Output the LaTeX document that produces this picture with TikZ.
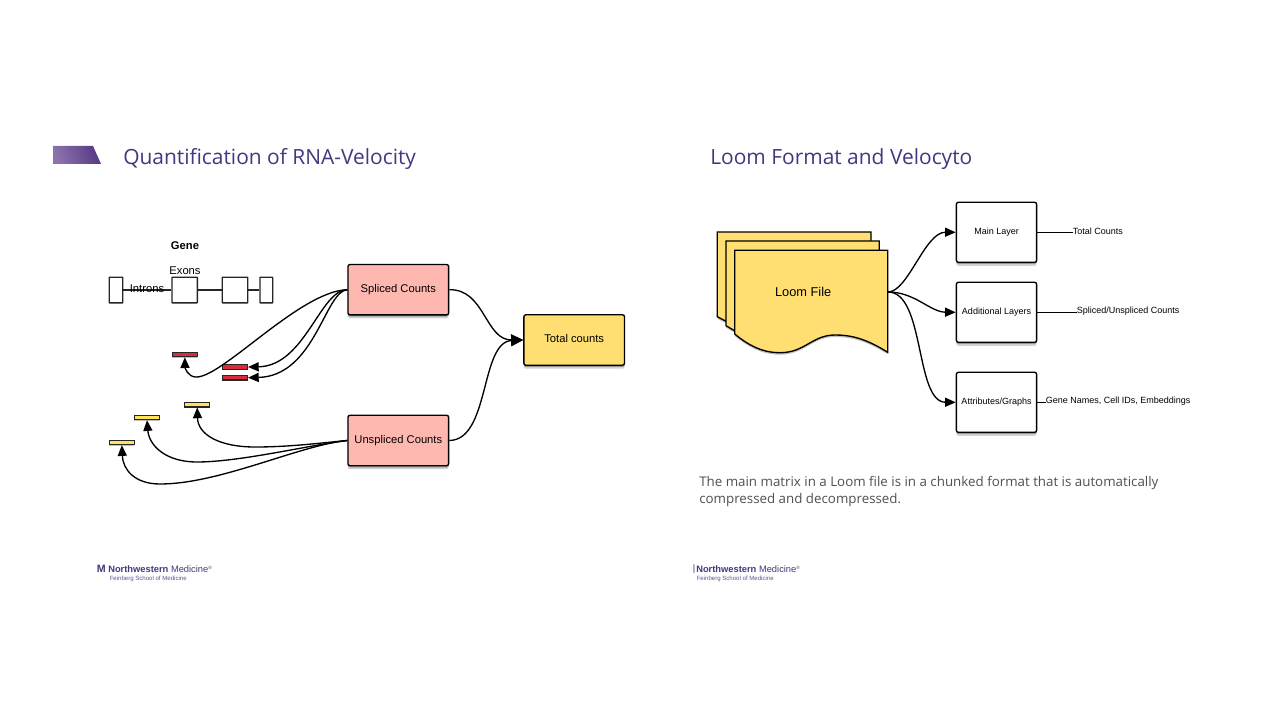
\documentclass[tikz,border=0pt]{standalone}
\usepackage{fontspec}
\setmainfont{Liberation Sans}
\newfontfamily\titlefont{Open Sans}
\usetikzlibrary{arrows.meta,shadows,fadings}
\definecolor{nwpurple}{HTML}{47367F}
\definecolor{bannerlight}{HTML}{8B73AE}
\definecolor{bannerdark}{HTML}{573A84}
\definecolor{bodygray}{HTML}{505050}
\definecolor{pinkfill}{HTML}{FFB8B0}
\definecolor{goldfill}{HTML}{FFDF71}
\definecolor{redbar}{HTML}{D92B3A}
\definecolor{yellowbar}{HTML}{FFE35A}
\tikzset{
  softshadow/.style={drop shadow={shadow xshift=0pt,shadow yshift=-1.2pt,opacity=.28,fill=black},
                     drop shadow={shadow xshift=0pt,shadow yshift=-2.6pt,opacity=.18,fill=black}},
  flow/.style={draw=black,line width=1pt,rounded corners=1.5pt,softshadow,align=center,inner sep=0pt,font=\fontsize{8.4}{10}\selectfont},
  pinkbox/.style={flow,fill=pinkfill,minimum width=75.5pt,minimum height=37.8pt},
  goldbox/.style={flow,fill=goldfill,minimum width=75.5pt,minimum height=37.8pt},
  whitebox/.style={flow,fill=white,minimum width=60.2pt,minimum height=45pt,font=\fontsize{6.75}{9}\selectfont},
  genebox/.style={draw=black!85,line width=.95pt,fill=white,rounded corners=.3pt,inner sep=0pt,minimum height=19.3pt},
  barbase/.style={draw=black!85,line width=.85pt,inner sep=0pt,minimum width=19pt,minimum height=3.4pt,drop shadow={shadow xshift=0pt,shadow yshift=-.8pt,opacity=.25,fill=black}},
  redb/.style={barbase,fill=redbar},
  yelb/.style={barbase,fill=yellowbar},
  conn/.style={draw=black,line width=1pt},
  arr/.style={conn,-{Triangle[length=8pt,width=6.8pt]}},
  bigarr/.style={conn,-{Triangle[length=9pt,width=8.5pt]}},
  plain/.style={inner sep=0pt,font=\fontsize{8.4}{10}\selectfont},
  sidelabel/.style={inner sep=0pt,font=\fontsize{6.75}{9}\selectfont},
  slidetitle/.style={inner sep=0pt,anchor=base west,text=nwpurple,font=\titlefont\fontsize{15.7}{20}\selectfont},
  logomain/.style={inner sep=0pt,anchor=west,text=nwpurple,font=\fontsize{7}{8}\selectfont},
  logosub/.style={inner sep=0pt,anchor=west,text=nwpurple!85,font=\fontsize{4.55}{5}\selectfont},
  docsheet/.style={draw=black,line width=1pt,fill=goldfill,line join=miter,drop shadow={shadow xshift=0pt,shadow yshift=-1.5pt,opacity=.25,fill=black}},
}
\begin{document}
\begin{tikzpicture}[x=0.75pt,y=-0.75pt]
\useasboundingbox (0,0) rectangle (1280,720);
\fill[white] (0,0) rectangle (1280,720);

% left slide header
\shade[left color=bannerlight,right color=bannerdark,shading angle=110]
  (53,146) -- (93,146) -- (101,164) -- (53,164) -- cycle;
\node[slidetitle] (titleL) at (123,164.5) {Quantification of RNA-Velocity};

% gene
\node[plain,font=\bfseries\fontsize{8.4}{10}\selectfont] (gene) at (185,245.5) {Gene};
\node[plain] (exons) at (185,271) {Exons};
\node[genebox,minimum width=10pt] (g1) at (116,290) {};
\node[genebox,minimum width=19pt] (g2) at (184.7,290) {};
\node[genebox,minimum width=19pt] (g3) at (235,290) {};
\node[genebox,minimum width=9.5pt] (g4) at (266.3,290) {};
\draw[line width=.85pt,draw=black!85] (g1) -- (g2);
\draw[line width=.85pt,draw=black!85] (g2) -- (g3);
\draw[line width=.85pt,draw=black!85] (g3) -- (g4);
\node[plain] (introns) at (147,289) {Introns};

% bars
\node[redb] (r1) at (184.8,354.5) {};
\node[redb] (r2) at (234.8,367) {};
\node[redb] (r3) at (234.8,377.7) {};
\node[yelb] (y1) at (197.2,404.7) {};
\node[yelb] (y2) at (147,417.4) {};
\node[yelb] (y3) at (121.8,442.4) {};

% main boxes
\node[pinkbox] (spliced) at (398.3,289.7) {Spliced Counts};
\node[pinkbox] (unspliced) at (398.3,440.5) {Unspliced Counts};
\node[goldbox] (total) at (574.2,340) {\raisebox{2pt}{Total counts}};

% spliced curves
\draw[arr] (spliced.west) .. controls (300,291) and (222,378) .. (196,377) .. controls (188,377) and (185,368) .. (r1.south);
\draw[arr] (spliced.west) .. controls (320,290) and (305,366) .. (r2.east);
\draw[arr] (spliced.west) .. controls (325,291) and (315,376) .. (r3.east);
% unspliced curves
\draw[arr] (unspliced.west) .. controls (320,443) and (290,447) .. (255,447) .. controls (220,447) and (198,435) .. (y1.south);
\draw[arr] (unspliced.west) .. controls (310,445) and (240,462) .. (197,462) .. controls (165,462) and (149,445) .. (y2.south);
\draw[arr] (unspliced.west) .. controls (300,445) and (220,484) .. (160,484) .. controls (135,484) and (123,470) .. (y3.south);
% totals
\draw[bigarr] (spliced.east) .. controls (485,289) and (485,340) .. (total.west);
\draw[bigarr] (unspliced.east) .. controls (490,440) and (480,342) .. (total.west);

% right slide
\node[slidetitle] (titleR) at (710,164.5) {Loom Format and Velocyto};

\draw[docsheet] (717.3,232) -- (871,232) -- (871,326) -- (735,326) -- (717.3,316.7) -- cycle;
\draw[docsheet] (726,241) -- (879.3,241) -- (879.3,331) -- (735,331) -- (726,325.7) -- cycle;
\draw[docsheet] (734.7,250.3) -- (887.7,250.3) -- (887.7,352.3)
  .. controls (865,338) and (850,335) .. (835,335)
  .. controls (812,335) and (805,352.7) .. (780,352.7)
  .. controls (762,352.7) and (748,345) .. (734.7,334) -- cycle;
\node[inner sep=0pt,minimum width=114.8pt,minimum height=63pt,font=\fontsize{9.6}{12}\selectfont] (loom) at (811.2,292) {Loom File\hspace*{12pt}};

\node[whitebox] (main) at (996.5,232.3) {Main Layer};
\node[whitebox] (addl) at (996.5,312.3) {Additional Layers};
\node[whitebox] (attr) at (996.5,402.3) {Attributes/Graphs};

\draw[arr] (loom.east) .. controls (908,292) and (925,232) .. (main.west);
\draw[arr] (loom.east) .. controls (915,292) and (930,312) .. (addl.west);
\draw[arr] (loom.east) .. controls (925,292) and (915,402) .. (attr.west);

\node[sidelabel,anchor=west] (tc) at (1072.5,231) {Total Counts};
\node[sidelabel,anchor=west] (su) at (1076.5,311.3) {Spliced/Unspliced Counts};
\node[sidelabel,anchor=west] (gn) at (1045.5,401.5) {Gene Names, Cell IDs, Embeddings};
\draw[conn] (main.east) -- (main.east -| tc.west);
\draw[conn] (addl.east) -- (addl.east -| su.west);
\draw[conn] (attr.east) -- (attr.east -| gn.west);

\node[inner sep=0pt,anchor=north west,align=left,text=bodygray,font=\titlefont\fontsize{10}{13}\selectfont] (para) at (699,476)
  {The main matrix in a Loom file is in a chunked format that is automatically\\compressed and decompressed.};

% logos
\node[logomain,text=nwpurple,font=\bfseries\fontsize{8}{8}\selectfont] (markL) at (96.5,569) {M};
\node[logomain] (logoL) at (108,569) {\textbf{Northwestern} Medicine{\fontsize{3.5}{4}\selectfont\raisebox{2pt}{®}}};
\node[logosub] (subL) at (109.5,578.5) {Feinberg School of Medicine};
\node[logomain] (barR) at (692.5,569) {|};
\node[logomain] (logoR) at (696,569) {\textbf{Northwestern} Medicine{\fontsize{3.5}{4}\selectfont\raisebox{2pt}{®}}};
\node[logosub] (subR) at (696.5,578.5) {Feinberg School of Medicine};
\end{tikzpicture}
\end{document}
